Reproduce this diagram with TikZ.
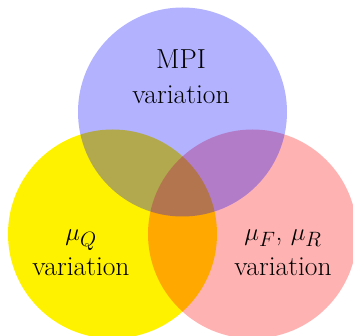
\documentclass[tikz,border=0pt]{standalone}
\begin{document}
\begin{tikzpicture}[x=1pt,y=-1pt,
  lbl/.style={align=center,font=\fontsize{27.5}{35}\selectfont,text=black,inner sep=0pt}]
\useasboundingbox (0,0) rectangle (353,336);
\coordinate (cy) at (112.5,234);
\coordinate (cr) at (252.5,234);
\coordinate (cb) at (182.5,112);
\fill[yellow] (cy) circle[radius=104.5];
\fill[red,fill opacity=0.3] (cr) circle[radius=104.5];
\fill[blue,fill opacity=0.3] (cb) circle[radius=104.5];
\node[lbl] (mpi) at (181,77) {MPI\\variation};
\node[lbl] (muq) at (81,253) {$\mu_Q$\\variation};
\node[lbl] (mufr) at (283,253) {$\mu_F$, $\mu_R$\\variation};
\end{tikzpicture}
\end{document}
